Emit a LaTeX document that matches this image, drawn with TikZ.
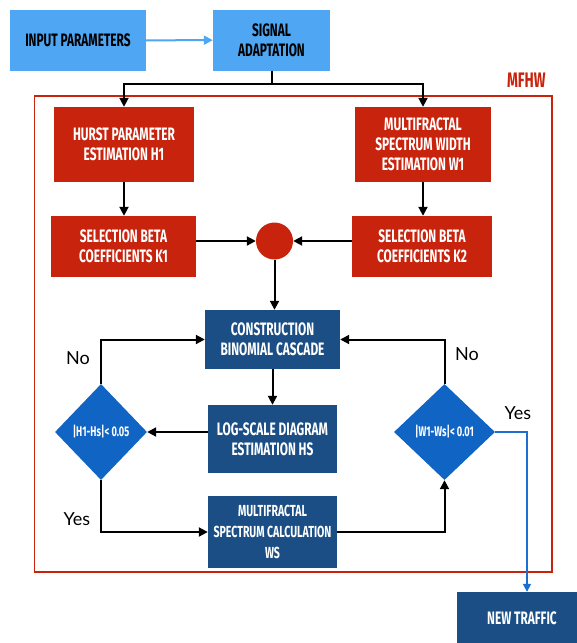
\documentclass[tikz,border=0pt]{standalone}
\usepackage{fontspec}
\usetikzlibrary{shapes.geometric,arrows.meta}
\newfontfamily\dinfont[FakeStretch=0.66]{Fira Sans}
\newfontfamily\yesnofont{Lato}
\definecolor{inblue}{HTML}{4FA6F2}
\definecolor{mfhwred}{HTML}{C8230C}
\definecolor{darkblue}{HTML}{1A4E84}
\definecolor{diamblue}{HTML}{1064C4}
\definecolor{exitblue}{HTML}{1A6FD0}
\begin{document}
\begin{tikzpicture}[x=1pt,y=-1pt,
  inbox/.style={rectangle, fill=inblue, inner sep=0pt, align=center, text=black, font=\dinfont\bfseries\fontsize{18}{20}\selectfont},
  redbox/.style={rectangle, fill=mfhwred, inner sep=0pt, align=center, text=white, font=\dinfont\bfseries\fontsize{18}{20}\selectfont},
  bluebox/.style={rectangle, fill=darkblue, inner sep=0pt, align=center, text=white, font=\dinfont\bfseries\fontsize{18}{20}\selectfont},
  test/.style={diamond, fill=diamblue, inner sep=0pt, text=white, minimum width=#1, minimum height=96pt, font=\dinfont\bfseries\fontsize{14}{16}\selectfont},
  answer/.style={font=\yesnofont\fontsize{18}{20}\selectfont},
  pipe/.style={line width=2pt, -{Triangle[length=9pt,width=9pt]}}]
\useasboundingbox (0,0) rectangle (577,643);
\fill[white] (0,0) rectangle (577,643);

% top row
\node[inbox, minimum width=136pt, minimum height=61pt] (inp) at (78,40.5) {INPUT PARAMETERS};
\node[inbox, minimum width=117pt, minimum height=61pt] (sig) at (271.5,40) {SIGNAL\\ADAPTATION};
\draw[inblue, line width=2pt, -{Triangle[length=9pt,width=9pt]}] (inp) -- (sig);

% MFHW block
\node[draw=mfhwred, line width=1.8pt, minimum width=517.5pt, minimum height=476pt] (frame) at (293.25,334) {};
\node[anchor=south east, inner sep=0pt, text=mfhwred, font=\dinfont\bfseries\fontsize{21}{22}\selectfont] (mfhw) at ([xshift=-7pt,yshift=7pt]frame.north east) {MFHW};

\node[redbox, minimum width=140pt, minimum height=75pt] (hurst) at (124,144.5) {HURST PARAMETER\\ESTIMATION H1};
\node[redbox, minimum width=136pt, minimum height=75pt] (wid) at (423,144.5) {MULTIFRACTAL\\SPECTRUM WIDTH\\ESTIMATION W1};
\node[redbox, minimum width=145pt, minimum height=61pt] (k1) at (123.5,246.5) {SELECTION BETA\\COEFFICIENTS K1};
\node[redbox, minimum width=140pt, minimum height=61pt] (k2) at (422,246.5) {SELECTION BETA\\COEFFICIENTS K2};
\node[circle, fill=mfhwred, minimum size=37pt, inner sep=0pt] (circ) at (274.5,241) {};

\node[bluebox, minimum width=135pt, minimum height=59pt] (constr) at (272.5,339.5) {CONSTRUCTION\\BINOMIAL CASCADE};
\node[bluebox, minimum width=129pt, minimum height=68pt] (logs) at (272.5,439) {LOG-SCALE DIAGRAM\\ESTIMATION HS};
\node[bluebox, minimum width=129pt, minimum height=72pt, font=\dinfont\bfseries\fontsize{16}{21}\selectfont] (calc) at (272.5,532) {MULTIFRACTAL\\SPECTRUM CALCULATION\\WS};
\node[test=92pt] (dl) at (101,432) {|H1-Hs|< 0.05};
\node[test=101pt] (dr) at (444.5,432) {|W1-Ws|< 0.01};
\node[bluebox, minimum width=130pt, minimum height=52pt] (newt) at (522,618) {NEW TRAFFIC};
\coordinate (split) at (271.5,84);
\coordinate (turn) at (527,432);

% connectors
\draw[line width=2pt] (sig.south) -- (split);
\draw[pipe] (split) -| (hurst.north);
\draw[pipe] (split) -| (wid.north);
\draw[pipe] (hurst.south) -- (hurst.south |- k1.north);
\draw[pipe] (wid.south) -- (wid.south |- k2.north);
\draw[pipe] (k1.east |- circ) -- (circ.west);
\draw[pipe] (k2.west |- circ) -- (circ.east);
\draw[pipe] (circ.south) -- (circ.south |- constr.north);
\draw[pipe] (constr.south) -- (constr.south |- logs.north);
\draw[pipe] (logs.west |- dl) -- (dl.east);
\draw[pipe] (dl.north) |- (constr.west);
\draw[pipe] (dr.north) |- (constr.east);
\draw[pipe] (dl.south) |- (calc.west);
\draw[pipe] (calc.east) -| (dr.south);
\draw[exitblue, line width=1.6pt, -{Triangle[length=8pt,width=8pt]}] (dr.east) -- (turn) -- (turn |- newt.north);

% answers
\node[answer] (noleft) at (78,358) {No};
\node[answer] (noright) at (467,354) {No};
\node[answer] (yesright) at (518,413) {Yes};
\node[answer] (yesleft) at (77,519) {Yes};
\end{tikzpicture}
\end{document}
